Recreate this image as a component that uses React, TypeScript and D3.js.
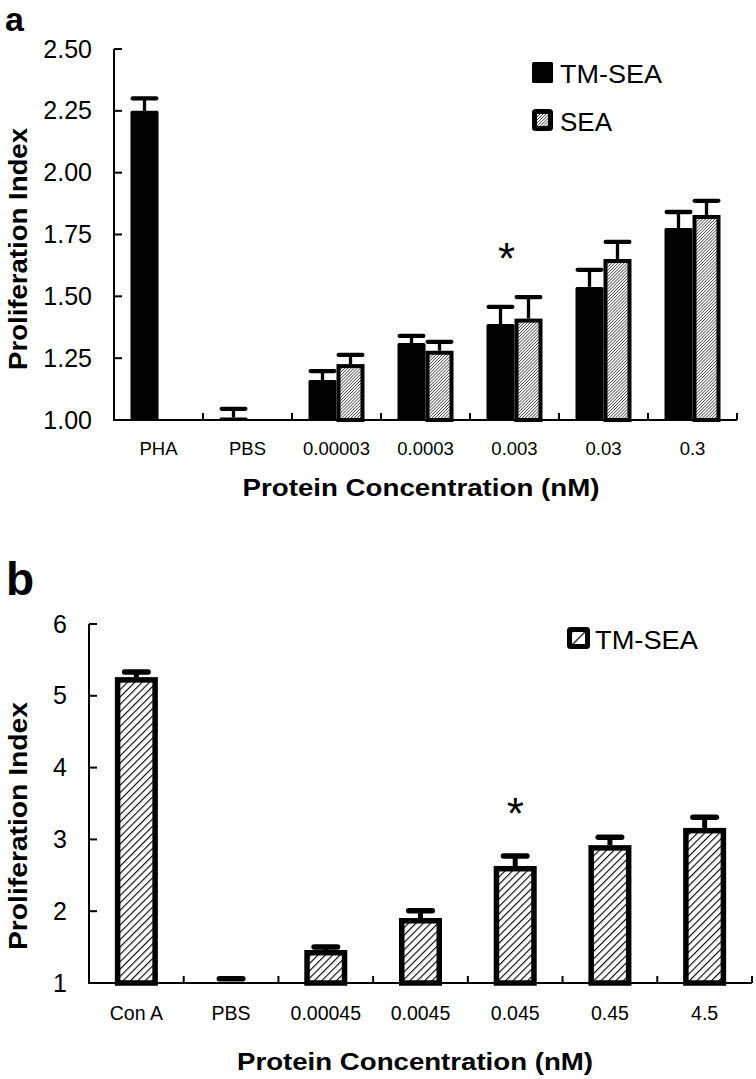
import React from 'react';
import * as d3 from 'd3';

// ---------- Panel a data ----------
const categoriesA = ['PHA', 'PBS', '0.00003', '0.0003', '0.003', '0.03', '0.3'];
const tmSeaA: (number | null)[] = [2.25, 1.01, 1.162, 1.311, 1.388, 1.538, 1.776];
const tmSeaAErr: (number | null)[] = [0.05, 0.035, 0.036, 0.029, 0.069, 0.069, 0.065];
const seaA: (number | null)[] = [null, null, 1.226, 1.28, 1.41, 1.651, 1.829];
const seaAErr: (number | null)[] = [null, null, 0.037, 0.036, 0.087, 0.069, 0.057];
const yTicksA = [1.0, 1.25, 1.5, 1.75, 2.0, 2.25, 2.5];
const seriesA = ['TM-SEA', 'SEA'];
const starA = '0.003';

// ---------- Panel b data ----------
const categoriesB = ['Con A', 'PBS', '0.00045', '0.0045', '0.045', '0.45', '4.5'];
const tmSeaB = [5.26, 1.03, 1.46, 1.905, 2.63, 2.92, 3.16];
const tmSeaBErr = [0.07, 0.03, 0.04, 0.1, 0.14, 0.11, 0.15];
const yTicksB = [1, 2, 3, 4, 5, 6];
const seriesB = ['TM-SEA'];
const starB = '0.045';

const FONT = '"Liberation Sans", Arial, Helvetica, sans-serif';

function ErrorBar({ cx, y0, y1, capW, stemW, capT }: any) {
  return (
    <g>
      <line x1={cx} x2={cx} y1={y0} y2={y1} stroke="#000" strokeWidth={stemW} />
      <line x1={cx - capW / 2 + capT / 2} x2={cx + capW / 2 - capT / 2} y1={y1} y2={y1}
        stroke="#000" strokeWidth={capT} strokeLinecap="round" />
    </g>
  );
}

function PanelA() {
  const x0 = 114, x1 = 737, yBase = 420, yTop = 49;
  const x = d3.scaleBand<string>().domain(categoriesA).range([x0, x1]).padding(0);
  const y = d3.scaleLinear().domain([1, 2.5]).range([yBase, yTop]);
  const barW = 28;
  const inner = d3.scaleBand<string>().domain(seriesA).range([-barW, barW]).padding(0);
  const sw = 4;
  return (
    <g>
      <text x={5} y={31} fontFamily={FONT} fontWeight="bold" fontSize={34}>a</text>
      {/* bars */}
      {categoriesA.map((c, i) => {
        const cx = (x(c) as number) + x.bandwidth() / 2;
        const out: any[] = [];
        const v1 = tmSeaA[i];
        if (v1 != null) {
          const bx = cx + (inner('TM-SEA') as number);
          const e = tmSeaAErr[i] as number;
          out.push(
            <g key={c + 'tm'}>
              <ErrorBar cx={bx + barW / 2} y0={y(v1)} y1={y(v1 + e)} capW={barW} stemW={3.3} capT={4.3} />
              <rect x={bx} y={y(v1)} width={barW} height={yBase - y(v1)} fill="#000" rx={1.5} />
            </g>
          );
        }
        const v2 = seaA[i];
        if (v2 != null) {
          const bx = cx + (inner('SEA') as number);
          const e = seaAErr[i] as number;
          out.push(
            <g key={c + 'sea'}>
              <ErrorBar cx={bx + barW / 2} y0={y(v2)} y1={y(v2 + e)} capW={barW} stemW={3.3} capT={4.3} />
              <rect x={bx + sw / 2} y={y(v2) + sw / 2} width={barW - sw} height={yBase - y(v2) - sw / 2}
                fill="url(#hatchA)" stroke="#000" strokeWidth={sw} />
            </g>
          );
        }
        return out;
      })}
      {/* axes */}
      <line x1={x0} x2={x0} y1={yTop} y2={yBase + 1} stroke="#000" strokeWidth={2} />
      <line x1={x0 - 1} x2={x1} y1={yBase} y2={yBase} stroke="#000" strokeWidth={2} />
      {yTicksA.map((t) => (
        <g key={t}>
          <line x1={x0} x2={x0 + 8} y1={y(t)} y2={y(t)} stroke="#000" strokeWidth={2} />
          <text x={x0 - 22} y={y(t) + 8.5} textAnchor="end" fontFamily={FONT} fontSize={25}>{t.toFixed(2)}</text>
        </g>
      ))}
      {categoriesA.map((c) => (
        <g key={c}>
          <line x1={(x(c) as number) + x.bandwidth()} x2={(x(c) as number) + x.bandwidth()} y1={yBase} y2={yBase - 7} stroke="#000" strokeWidth={2} />
          <text x={(x(c) as number) + x.bandwidth() / 2} y={455} textAnchor="middle" fontFamily={FONT} fontSize={18.5}>{c}</text>
        </g>
      ))}
      {/* asterisk */}
      <text x={(x(starA) as number) + x.bandwidth() / 2 - 8} y={274} textAnchor="middle" fontFamily={FONT} fontSize={44}>*</text>
      {/* titles */}
      <text x={421} y={496} textAnchor="middle" fontFamily={FONT} fontWeight="bold" fontSize={24}
        textLength={357} lengthAdjust="spacingAndGlyphs">Protein Concentration (nM)</text>
      <text transform={`translate(27, 249) rotate(-90)`} textAnchor="middle" fontFamily={FONT} fontWeight="bold" fontSize={25}
        textLength={242} lengthAdjust="spacingAndGlyphs">Proliferation Index</text>
      {/* legend */}
      <rect x={532} y={62} width={21} height={21} fill="#000" rx={1.5} />
      <text x={560} y={83} fontFamily={FONT} fontSize={26} textLength={102} lengthAdjust="spacingAndGlyphs">TM-SEA</text>
      <rect x={534.5} y={111.5} width={16} height={17} fill="url(#hatchA)" stroke="#000" strokeWidth={5} rx={1} />
      <text x={560} y={131} fontFamily={FONT} fontSize={26} textLength={52} lengthAdjust="spacingAndGlyphs">SEA</text>
    </g>
  );
}

function PanelB() {
  const x0 = 89, x1 = 752, yBase = 983, yTop = 624;
  const x = d3.scaleBand<string>().domain(categoriesB).range([x0, x1]).padding(0);
  const y = d3.scaleLinear().domain([1, 6]).range([yBase, yTop]);
  const barW = 43;
  const sw = 5.5;
  return (
    <g>
      <text x={6} y={595} fontFamily={FONT} fontWeight="bold" fontSize={46}>b</text>
      {categoriesB.map((c, i) => {
        const cx = (x(c) as number) + x.bandwidth() / 2;
        const v = tmSeaB[i];
        const e = tmSeaBErr[i];
        return (
          <g key={c}>
            <ErrorBar cx={cx} y0={y(v)} y1={y(v + e)} capW={29} stemW={5} capT={5.5} />
            <rect x={cx - barW / 2 + sw / 2} y={y(v) + sw / 2} width={barW - sw} height={Math.max(0, yBase - y(v) - sw / 2)}
              fill="url(#hatchB)" stroke="#000" strokeWidth={sw} />
          </g>
        );
      })}
      <line x1={x0} x2={x0} y1={yTop} y2={yBase + 1} stroke="#000" strokeWidth={2} />
      <line x1={x0 - 1} x2={x1} y1={yBase} y2={yBase} stroke="#000" strokeWidth={2} />
      {yTicksB.map((t) => (
        <g key={t}>
          <line x1={x0} x2={x0 + 8} y1={y(t)} y2={y(t)} stroke="#000" strokeWidth={2} />
          <text x={x0 - 22} y={y(t) + 8.5} textAnchor="end" fontFamily={FONT} fontSize={25}>{t}</text>
        </g>
      ))}
      {categoriesB.map((c) => (
        <g key={c}>
          <line x1={(x(c) as number) + x.bandwidth()} x2={(x(c) as number) + x.bandwidth()} y1={yBase} y2={yBase - 7} stroke="#000" strokeWidth={2} />
          <text x={(x(c) as number) + x.bandwidth() / 2} y={1020} textAnchor="middle" fontFamily={FONT} fontSize={19.5}>{c}</text>
        </g>
      ))}
      <text x={(x(starB) as number) + x.bandwidth() / 2} y={829} textAnchor="middle" fontFamily={FONT} fontSize={44}>*</text>
      <text x={415} y={1070} textAnchor="middle" fontFamily={FONT} fontWeight="bold" fontSize={24}
        textLength={356} lengthAdjust="spacingAndGlyphs">Protein Concentration (nM)</text>
      <text transform={`translate(27, 826) rotate(-90)`} textAnchor="middle" fontFamily={FONT} fontWeight="bold" fontSize={25}
        textLength={248} lengthAdjust="spacingAndGlyphs">Proliferation Index</text>
      {/* legend */}
      <rect x={569.5} y={629.5} width={18} height={17} fill="url(#hatchBL)" stroke="#000" strokeWidth={5} rx={1} />
      <text x={595} y={649} fontFamily={FONT} fontSize={26} textLength={103} lengthAdjust="spacingAndGlyphs">{seriesB[0]}</text>
    </g>
  );
}

export default function App() {
  return (
    <svg width={756} height={1079} viewBox="0 0 756 1079"
      style={{ position: 'absolute', left: 0, top: 0, background: '#fff' }}>
      <defs>
        <pattern id="hatchA" patternUnits="userSpaceOnUse" width={2.2} height={2.2} patternTransform="rotate(45)">
          <rect width={2.2} height={2.2} fill="#fff" />
          <line x1={0} y1={0} x2={0} y2={2.2} stroke="#000" strokeWidth={1.1} />
        </pattern>
        <pattern id="hatchB" patternUnits="userSpaceOnUse" width={5.2} height={5.2} patternTransform="rotate(45)">
          <rect width={5.2} height={5.2} fill="#fff" />
          <line x1={0} y1={0} x2={0} y2={5.2} stroke="#000" strokeWidth={2.2} />
        </pattern>
        <pattern id="hatchBL" patternUnits="userSpaceOnUse" width={9} height={9} patternTransform="translate(578,638) rotate(45)">
          <rect width={9} height={9} fill="#fff" />
          <line x1={0} y1={0} x2={0} y2={9} stroke="#000" strokeWidth={2.5} />
        </pattern>
      </defs>
      <rect width={756} height={1079} fill="#fff" />
      <PanelA />
      <PanelB />
    </svg>
  );
}
